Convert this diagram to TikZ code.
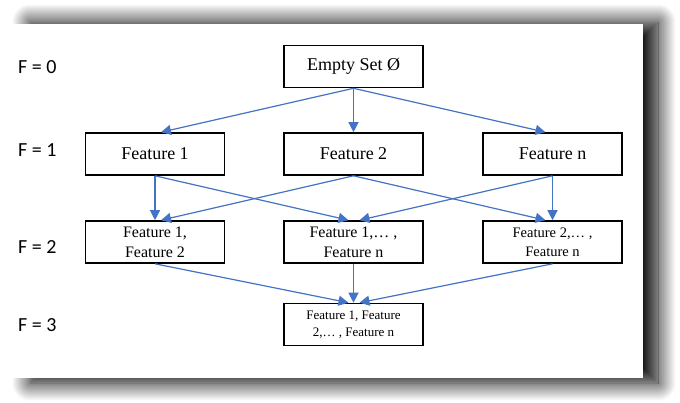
\documentclass[tikz,border=0pt]{standalone}
\usepackage{fontspec}
\setmainfont{Liberation Serif}
\newfontfamily\levelfont{Carlito}
\usepackage{xcolor}
\usetikzlibrary{arrows.meta, shadows.blur}
\definecolor{linkblue}{HTML}{4472C4}
\tikzset{
  backshadow/.style={blur shadow={shadow xshift=0pt, shadow yshift=0pt, shadow blur radius=18pt, shadow blur steps=24, shadow opacity=100}},
  setbox/.style={draw, line width=1.6pt, minimum width=139pt, minimum height=42pt, align=center, inner sep=1pt},
  levellabel/.style={anchor=west, inner sep=0pt, font=\levelfont\fontsize{20}{24}\selectfont},
  link/.style={linkblue, line width=1.2pt, -{Triangle[length=10pt, width=10pt]}}
}

\begin{document}
\begin{tikzpicture}[x=1pt, y=-1pt]
  \useasboundingbox (0,0) rectangle (680,402);
  % card with its shadow
  \path[backshadow] (30,22) rectangle (658,383);
  \fill[white] (10,24) rectangle (643,378);
  % level labels
  \node[levellabel] (l0) at (18,67) {F = 0}; \node[levellabel] (l1) at (18,150) {F = 1};
  \node[levellabel] (l2) at (18,247) {F = 2}; \node[levellabel] (l3) at (18,325) {F = 3};
  % subsets
  \node[setbox, font=\fontsize{18}{22}\selectfont] (empty) at (353.5,66.5) {Empty Set Ø};
  \node[setbox, font=\fontsize{18}{22}\selectfont] (f1) at (155,154) {Feature 1};
  \node[setbox, font=\fontsize{18}{22}\selectfont] (f2) at (353.5,154) {Feature 2};
  \node[setbox, font=\fontsize{18}{22}\selectfont] (fn) at (552.5,154) {Feature n};
  \node[setbox, font=\fontsize{16}{20}\selectfont] (f12) at (155,242) {Feature 1,\\Feature 2};
  \node[setbox, font=\fontsize{16}{20}\selectfont] (f1n) at (353.5,242) {Feature 1,… ,\\Feature n};
  \node[setbox, font=\fontsize{14.5}{19}\selectfont] (f2n) at (552.5,242) {Feature 2,… ,\\Feature n};
  \node[setbox, font=\fontsize{13}{17}\selectfont] (fall) at (353.5,324.5) {Feature 1, Feature\\2,… , Feature n};
  % links
  \foreach \t/\s in {f1/6, f2/0, fn/-7} \draw[link] (empty.south) -- ([xshift=\s pt]\t.north);
  \draw[link] (f1.south) -- (f12.north); \draw[link] (f1.south) -- ([xshift=-5pt]f1n.north);
  \draw[link] (f2.south) -- ([xshift=6pt]f12.north); \draw[link] (f2.south) -- ([xshift=-7pt]f2n.north);
  \draw[link] (fn.south) -- ([xshift=6pt]f1n.north); \draw[link] (fn.south) -- (f2n.north);
  \draw[link] (f12.south) -- ([xshift=-5pt]fall.north); \draw[link] (f1n.south) -- (fall.north);
  \draw[link] (f2n.south) -- ([xshift=6pt]fall.north);
\end{tikzpicture}
\end{document}
